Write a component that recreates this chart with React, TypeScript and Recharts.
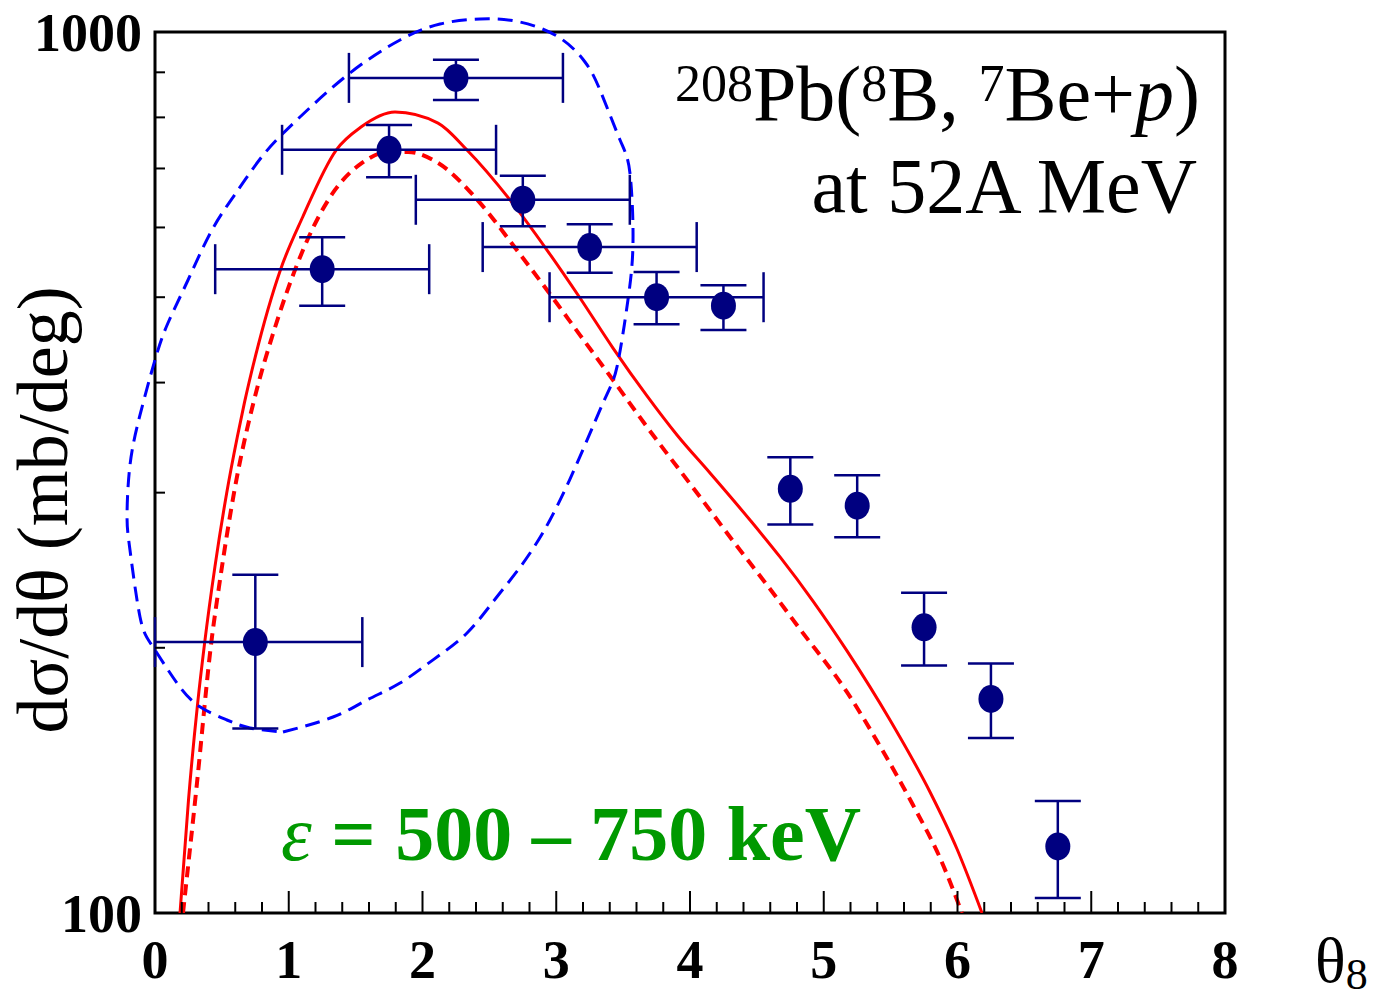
import React from 'react';
import { ComposedChart, Line, Scatter, XAxis, YAxis, ErrorBar, ReferenceArea } from 'recharts';

// ---- axis ticks ----
const X_TICKS = [0, 0.2, 0.4, 0.6, 0.8, 1, 1.2, 1.4, 1.6, 1.8, 2, 2.2, 2.4, 2.6, 2.8, 3, 3.2, 3.4, 3.6, 3.8, 4, 4.2, 4.4, 4.6, 4.8, 5, 5.2, 5.4, 5.6, 5.8, 6, 6.2, 6.4, 6.6, 6.8, 7, 7.2, 7.4, 7.6, 7.8, 8];
const X_LABELS = [0, 1, 2, 3, 4, 5, 6, 7, 8];
const Y_TICKS = [100, 200, 300, 400, 500, 600, 700, 800, 900, 1000];
const Y_LABELS = [100, 1000];

// ---- experimental data ----
const ANGLE = [0.75, 1.25, 1.75, 2.25, 2.75, 3.25, 3.75, 4.25, 4.75, 5.25, 5.75, 6.25, 6.75];
const XSEC = [203, 538, 735, 887, 645, 570, 500, 489, 303, 290, 211, 175, 119];
const XSEC_LOW = [162, 489, 684, 837, 602, 533, 466, 459, 276, 267, 191, 158, 104];
const XSEC_HIGH = [242, 585, 784, 930, 687, 605, 534, 516, 329, 314, 231, 192, 134];
const ANGLE_LOW = [0, 0.45, 0.95, 1.45, 1.95, 2.45, 2.95, null, null, null, null, null, null];
const ANGLE_HIGH = [1.55, 2.05, 2.55, 3.05, 3.55, 4.05, 4.55, null, null, null, null, null, null];

// ---- calculation, solid ----
const SOLID_X = [0.187, 0.2505, 0.3193, 0.3693, 0.4479, 0.5361, 0.6153, 0.6684, 0.7492, 0.9376, 1.1043, 1.3548, 1.5402, 1.7944, 2.1159, 2.3327, 2.6542, 2.9308, 3.1776, 3.4243, 3.6785, 3.9028, 4.1495, 4.4486, 4.6729, 4.9196, 5.1738, 5.4953, 5.7944, 5.9963, 6.1832];
const SOLID_Y = [100, 134.4, 173.2, 201.5, 247.1, 299.8, 347.0, 379.3, 427.6, 537.0, 616.6, 734.6, 780.0, 811.2, 788.2, 734.6, 644.8, 565.6, 499.0, 437.8, 386.3, 348.8, 315.8, 279.3, 253.6, 226.0, 198.4, 165.6, 137.2, 118.2, 100];

// ---- calculation, dashed ----
const DASH_X = [0.2093, 0.314, 0.4187, 0.486, 0.5907, 0.7701, 0.8748, 1.0467, 1.1738, 1.3458, 1.5477, 1.7421, 1.8916, 2.1159, 2.4299, 2.6766, 2.9308, 3.1776, 3.4243, 3.6785, 4.0748, 4.3215, 4.5757, 4.8224, 5.1738, 5.4206, 5.6673, 5.8692, 6.0336];
const DASH_Y = [100, 140.5, 201.5, 238.8, 299.8, 397.5, 450.6, 537.0, 596.1, 661.8, 710.2, 730.9, 730.9, 710.2, 639.8, 573.1, 509.5, 452.9, 402.7, 356.2, 296.7, 264.4, 235.7, 210.0, 178.1, 154.7, 132.6, 115.5, 100];

// ---- blue dashed contour ----
const ELLIPSE_X = [0.957, 1.331, 1.585, 1.832, 2.079, 2.333, 2.579, 2.953, 3.327, 3.454, 3.536, 3.574, 3.551, 3.477, 3.327, 3.215, 3.028, 2.729, 2.43, 2.131, 1.832, 1.458, 1.084, 0.822, 0.621, 0.426, 0.247, 0.097, 0.0, -0.112, -0.187, -0.209, -0.187, -0.112, -0.015, 0.164, 0.336, 0.538, 0.71, 0.957];
const ELLIPSE_Y = [160.5, 166.9, 174.5, 182.4, 193.8, 207.9, 230.8, 279.3, 372.4, 416.7, 496.4, 580.5, 691.8, 754.1, 859.3, 924.6, 984.4, 1026.5, 1034.6, 1021.1, 979.3, 898.5, 800.8, 729.0, 661.8, 596.0, 523.0, 467.4, 424.4, 367.6, 322.5, 283.0, 258.2, 216.8, 200.4, 182.4, 171.4, 165.6, 162.2, 160.5];

const points = ANGLE.map((x, i) => ({
  x,
  y: XSEC[i],
  ey: [XSEC[i] - XSEC_LOW[i], XSEC_HIGH[i] - XSEC[i]],
  ex: ANGLE_LOW[i] == null ? null : [x - (ANGLE_LOW[i] as number), (ANGLE_HIGH[i] as number) - x],
}));
const solid = SOLID_X.map((x, i) => ({ x, y: SOLID_Y[i] }));
const dashed = DASH_X.map((x, i) => ({ x, y: DASH_Y[i] }));
const contour = ELLIPSE_X.map((x, i) => ({ x, y: ELLIPSE_Y[i] }));

const FONT = "'Liberation Serif', 'Times New Roman', Times, serif";
const NAVY = '#000080';
const W = 1375;
const H = 1000;

const XTick = (props: any) => {
  const { x, y, payload } = props;
  const v = payload.value;
  const major = X_LABELS.includes(Math.round(v * 10) / 10);
  return (
    <g>
      <line x1={x} x2={x} y1={y} y2={y - (major ? 22 : 11)} stroke="#000" strokeWidth={2} />
      {major && (
        <text x={x} y={y + 65} textAnchor="middle" fontFamily={FONT} fontWeight="bold" fontSize={54} fill="#000">
          {Math.round(v)}
        </text>
      )}
    </g>
  );
};

const YTick = (props: any) => {
  const { x, y, payload } = props;
  const v = payload.value;
  const labeled = Y_LABELS.includes(v);
  return (
    <g>
      {!labeled && <line x1={x} x2={x + 10} y1={y} y2={y} stroke="#000" strokeWidth={2} />}
      {labeled && (
        <text x={x - 13} y={y + 19} textAnchor="end" fontFamily={FONT} fontWeight="bold" fontSize={54} fill="#000">
          {v}
        </text>
      )}
    </g>
  );
};

const Dot = (props: any) => {
  const { cx, cy } = props;
  if (cx == null || cy == null) return null;
  return <ellipse cx={cx} cy={cy} rx={12.5} ry={14} fill={NAVY} />;
};

export default function App() {
  return (
    <div style={{ position: 'relative', width: W, height: H, marginTop: -8, marginLeft: -8 }}>
      <style>{`.ellipse-line, .ellipse-line * { clip-path: none !important; }`}</style>
      <ComposedChart width={W} height={H} margin={{ top: 32, right: 150, bottom: 27, left: 75 }}>
        <XAxis
          dataKey="x"
          type="number"
          domain={[0, 8]}
          allowDataOverflow
          ticks={X_TICKS}
          interval={0}
          tickSize={0}
          tickMargin={0}
          tickLine={false}
          axisLine={false}
          tick={<XTick />}
          height={60}
        />
        <YAxis
          dataKey="y"
          type="number"
          scale="log"
          domain={[100, 1000]}
          allowDataOverflow
          ticks={Y_TICKS}
          interval={0}
          tickSize={0}
          tickMargin={0}
          tickLine={false}
          axisLine={false}
          tick={<YTick />}
          width={80}
        />
        <Line
          data={dashed}
          dataKey="y"
          type="monotone"
          stroke="#ff0000"
          strokeWidth={4}
          strokeDasharray="11 7"
          dot={false}
          isAnimationActive={false}
        />
        <Line
          data={solid}
          dataKey="y"
          type="monotone"
          stroke="#ff0000"
          strokeWidth={3}
          dot={false}
          isAnimationActive={false}
        />
        <Line
          className="ellipse-line"
          data={contour}
          dataKey="y"
          type="natural"
          stroke="#0000ff"
          strokeWidth={3}
          strokeDasharray="15 8"
          dot={false}
          isAnimationActive={false}
        />
        <Scatter data={points} dataKey="y" shape={<Dot />} isAnimationActive={false}>
          <ErrorBar dataKey="ey" direction="y" width={23} stroke={NAVY} strokeWidth={2.5} isAnimationActive={false} />
          <ErrorBar dataKey="ex" direction="x" width={25} stroke={NAVY} strokeWidth={2.5} isAnimationActive={false} />
        </Scatter>
        <ReferenceArea x1={0} x2={8} y1={100} y2={1000} fill="none" fillOpacity={0} stroke="#000" strokeWidth={3} ifOverflow="visible" />
      </ComposedChart>
      <svg width={W} height={H} style={{ position: 'absolute', left: 0, top: 0, pointerEvents: 'none' }}>
        <text x={1200} y={120} textAnchor="end" fontFamily={FONT} fontSize={78} fill="#000">
          <tspan fontSize={52} dy={-19}>208</tspan>
          <tspan dy={19}>Pb(</tspan>
          <tspan fontSize={52} dy={-19}>8</tspan>
          <tspan dy={19}>B, </tspan>
          <tspan fontSize={52} dy={-19}>7</tspan>
          <tspan dy={19}>Be+</tspan>
          <tspan fontStyle="italic">p</tspan>
          <tspan>)</tspan>
        </text>
        <text x={1197} y={212} textAnchor="end" fontFamily={FONT} fontSize={78} fill="#000">
          at 52A MeV
        </text>
        <text x={281} y={860} fontFamily={FONT} fontSize={78} fontWeight="bold" fill="#009900">
          <tspan fontStyle="italic" fontWeight="normal">ε</tspan>
          <tspan> = 500 – 750 keV</tspan>
        </text>
        <text x={1315} y={982} fontFamily={FONT} fontSize={64} fill="#000">
          θ
          <tspan fontSize={44} dy={7}>8</tspan>
        </text>
        <text
          x={67}
          y={510}
          transform="rotate(-90 67 510)"
          textAnchor="middle"
          fontFamily={FONT}
          fontSize={72}
          fill="#000"
        >
          dσ/dθ (mb/deg)
        </text>
      </svg>
    </div>
  );
}
